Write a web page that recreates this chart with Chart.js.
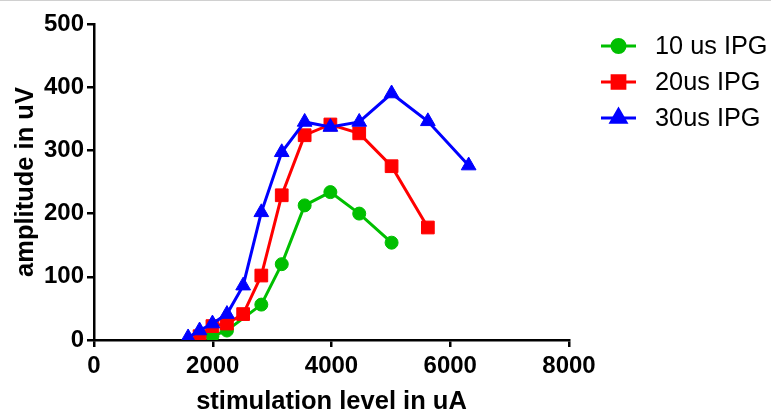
<!DOCTYPE html>
<html><head><meta charset="utf-8">
<script src="https://cdn.jsdelivr.net/npm/chart.js@4/dist/chart.umd.min.js"></script>
<style>
html,body{margin:0;padding:0;background:#fff;}
#wrap{position:relative;width:771px;height:410px;}
#topline{position:absolute;left:0;top:0;width:771px;height:1px;background:#d0d0d0;}
</style>
</head><body>
<div id="wrap"><canvas id="c" width="771" height="410"></canvas><div id="topline"></div></div>
<script>
// Stimulation levels (uA) and amplitudes (uV) per inter-phase gap
const stim10 = [1995, 2239, 2818, 3162, 3548, 3981, 4467, 5012];
const amp10  = [6, 15, 56, 120, 213, 234, 200, 154];
const stim20 = [1778, 1995, 2239, 2512, 2818, 3162, 3548, 3981, 4467, 5012, 5623];
const amp20  = [6, 22, 26, 41, 102, 229, 324, 341, 327, 275, 178];
const stim30 = [1585, 1778, 1995, 2239, 2512, 2818, 3162, 3548, 3981, 4467, 5012, 5623, 6310];
const amp30  = [4, 15, 26, 41, 86, 202, 297, 345, 337, 345, 390, 346, 276];
const seriesNames = ['10 us IPG', '20us IPG', '30us IPG'];
const xTicks = [0, 2000, 4000, 6000, 8000];
const yTicks = [0, 100, 200, 300, 400, 500];

const GREEN = '#00BF00', RED = '#FF0000', BLUE = '#0000FF';
const toPts = (xs, ys) => xs.map((x, i) => ({x: x, y: ys[i]}));

const FONT = '"Liberation Sans", Arial, sans-serif';

const legendPlugin = {
  id: 'customLegend',
  afterDraw(chart) {
    const ctx = chart.ctx;
    const rows = [46, 82, 118];
    chart.data.datasets.forEach((ds, i) => {
      const y = rows[i];
      ctx.save();
      ctx.strokeStyle = ds.borderColor;
      ctx.lineWidth = 3;
      ctx.beginPath();
      ctx.moveTo(601, y);
      ctx.lineTo(636, y);
      ctx.stroke();
      ctx.fillStyle = ds.pointBackgroundColor;
      ctx.strokeStyle = ds.pointBorderColor;
      Chart.helpers.drawPoint(ctx, {pointStyle: ds.pointStyle, radius: ds.pointRadius, borderWidth: 1, rotation: 0}, 618.5, y);
      ctx.fillStyle = '#000';
      ctx.font = '25.3px ' + FONT;
      ctx.textBaseline = 'middle';
      ctx.textAlign = 'left';
      ctx.fillText(seriesNames[i], 655, y + 1);
      ctx.restore();
    });
  }
};

new Chart(document.getElementById('c'), {
  type: 'scatter',
  data: {
    datasets: [
      {label: seriesNames[0], data: toPts(stim10, amp10), showLine: true, borderColor: GREEN, backgroundColor: GREEN,
       pointBackgroundColor: GREEN, pointBorderColor: GREEN, pointStyle: 'circle', pointRadius: 6.5, pointBorderWidth: 1, borderWidth: 3, order: 2},
      {label: seriesNames[1], data: toPts(stim20, amp20), showLine: true, borderColor: RED, backgroundColor: RED,
       pointBackgroundColor: RED, pointBorderColor: RED, pointStyle: 'rect', pointRadius: 9, pointBorderWidth: 1, borderWidth: 3, order: 1},
      {label: seriesNames[2], data: toPts(stim30, amp30), showLine: true, borderColor: BLUE, backgroundColor: BLUE,
       pointBackgroundColor: BLUE, pointBorderColor: BLUE, pointStyle: 'triangle', pointRadius: 8.5, pointBorderWidth: 1, borderWidth: 3, order: 0}
    ]
  },
  options: {
    responsive: false,
    animation: false,
    layout: {padding: {top: 24, right: 202, left: 0, bottom: 0}},
    plugins: {legend: {display: false}, tooltip: {enabled: false}},
    elements: {line: {tension: 0}},
    scales: {
      x: {
        type: 'linear', min: 0, max: 8000,
        afterBuildTicks: s => { s.ticks = xTicks.map(v => ({value: v})); },
        afterFit: s => { s.height = 70; },
        grid: {drawOnChartArea: false, drawTicks: true, tickLength: 7, color: '#000', lineWidth: 2.5},
        border: {display: true, color: '#000', width: 2.5},
        ticks: {color: '#000', font: {family: FONT, size: 24, weight: 'bold'}, padding: 5, maxRotation: 0,
                callback: v => String(v)},
        title: {display: true, text: 'stimulation level in uA', color: '#000',
                font: {family: FONT, size: 25.5, weight: 'bold', lineHeight: 0.6}, padding: {top: 0, bottom: 0}}
      },
      y: {
        type: 'linear', min: 0, max: 500,
        afterBuildTicks: s => { s.ticks = yTicks.map(v => ({value: v})); },
        afterFit: s => { s.width = 94; },
        grid: {drawOnChartArea: false, drawTicks: true, tickLength: 7, color: '#000', lineWidth: 2.5},
        border: {display: true, color: '#000', width: 2.5},
        ticks: {color: '#000', font: {family: FONT, size: 24, weight: 'bold'}, padding: 3,
                callback: v => String(v)},
        title: {display: true, text: 'amplitude in uV', color: '#000',
                font: {family: FONT, size: 25.5, weight: 'bold', lineHeight: 1}, padding: {top: 13, bottom: 0}}
      }
    }
  },
  plugins: [legendPlugin]
});
</script>
</body></html>
